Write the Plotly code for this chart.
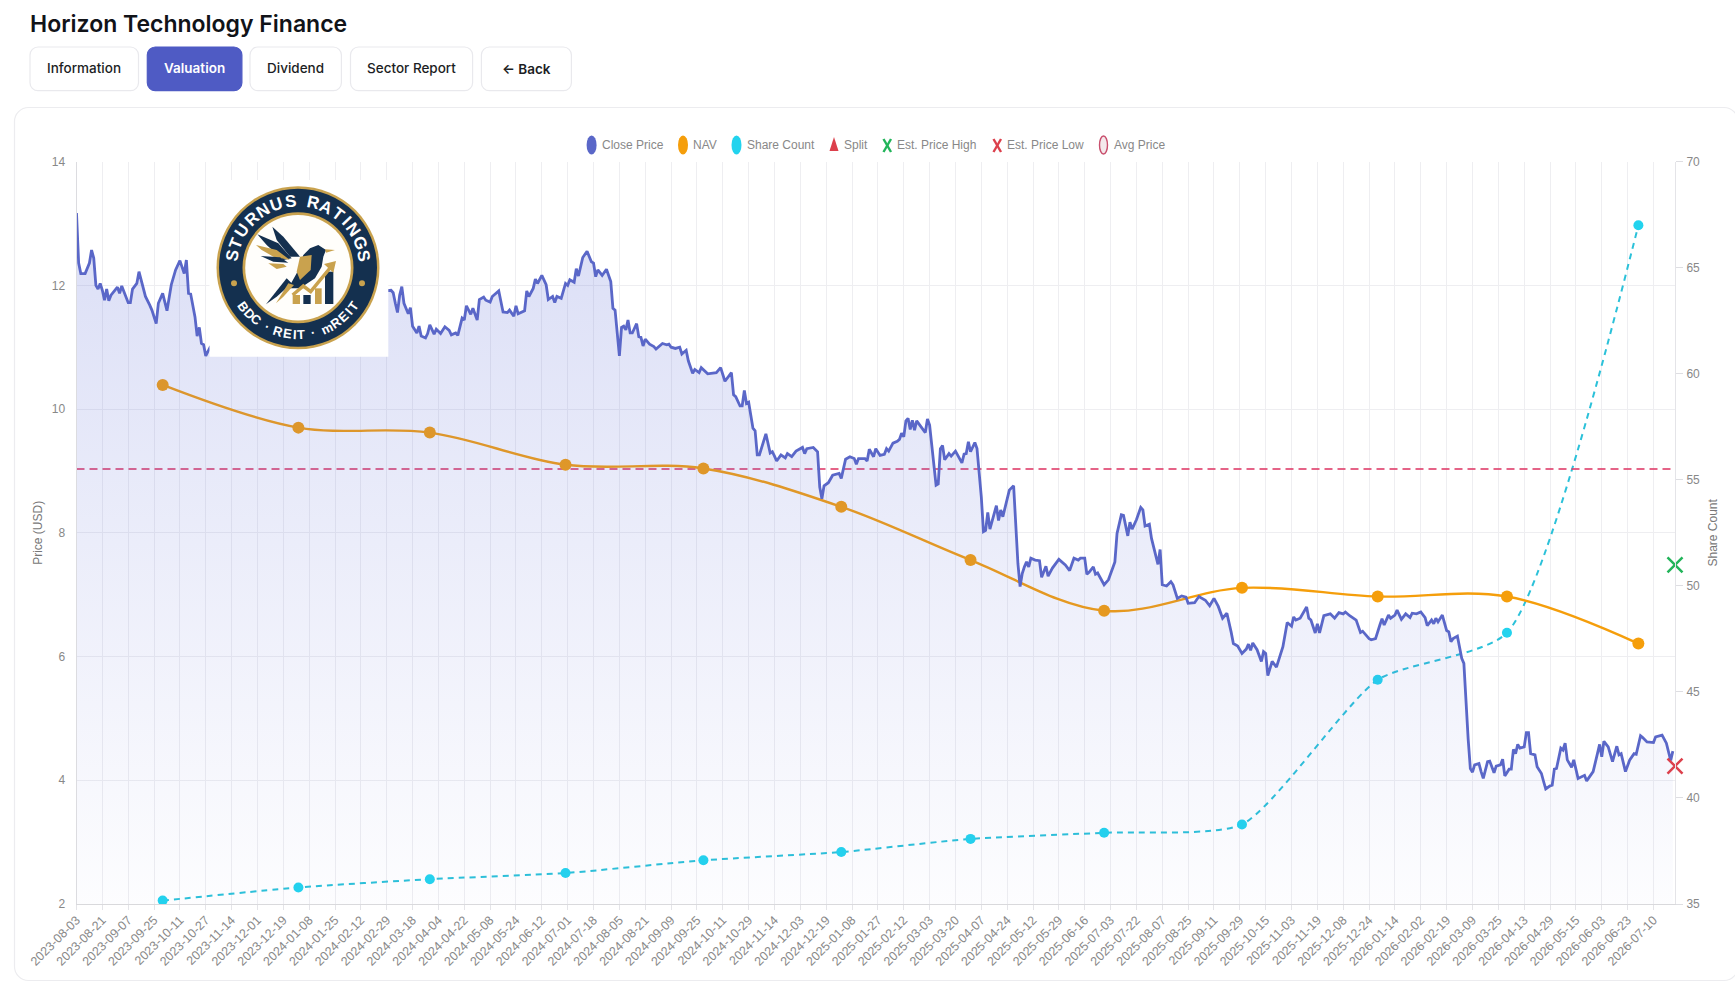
import math
import plotly.graph_objects as go

W, H = 1735, 982

company_name = "Horizon Technology Finance"
nav_buttons = ["Information", "Valuation", "Dividend", "Sector Report", "← Back"]

# Session index = position in the sequence of trading days on the category axis
tick_labels = [
    "2023-08-03","2023-08-21","2023-09-07","2023-09-25","2023-10-11","2023-10-27","2023-11-14","2023-12-01",
    "2023-12-19","2024-01-08","2024-01-25","2024-02-12","2024-02-29","2024-03-18","2024-04-04","2024-04-22",
    "2024-05-08","2024-05-24","2024-06-12","2024-07-01","2024-07-18","2024-08-05","2024-08-21","2024-09-09",
    "2024-09-25","2024-10-11","2024-10-29","2024-11-14","2024-12-03","2024-12-19","2025-01-08","2025-01-27",
    "2025-02-12","2025-03-03","2025-03-20","2025-04-07","2025-04-24","2025-05-12","2025-05-29","2025-06-16",
    "2025-07-03","2025-07-22","2025-08-07","2025-08-25","2025-09-11","2025-09-29","2025-10-15","2025-11-03",
    "2025-11-19","2025-12-08","2025-12-24","2026-01-14","2026-02-02","2026-02-19","2026-03-09","2026-03-25",
    "2026-04-13","2026-04-29","2026-05-15","2026-06-03","2026-06-23","2026-07-10",
]
sessions_per_tick = 12
last_session = 742

close_sessions = [
    0,1,2,4,6,7,8,9,10,11,12,13,14,15,16,19,20,21,24,25,26,28,29,30,32,34,35,37,38,40,42,44,46,48,50,51,52,53,55,56,57,58,59,60,62,
    70,80,95,110,125,140,
    146,147,148,149,150,151,152,154,155,156,158,159,160,162,163,164,166,167,169,171,173,174,176,177,179,180,181,183,184,186,187,189,190,192,193,196,198,200,201,203,204,205,208,209,210,212,213,214,216,218,219,221,222,223,225,227,228,229,231,232,233,235,237,239,240,241,242,244,246,248,249,250,252,253,254,255,256,257,258,260,261,262,263,264,266,268,269,272,274,275,276,278,280,281,283,284,286,287,289,290,293,
    297,299,301,304,305,306,308,309,310,311,312,313,314,315,316,317,320,322,323,324,325,327,329,330,332,334,337,338,339,342,344,345,346,347,349,351,354,355,357,359,361,362,363,366,367,368,370,371,373,375,376,377,379,381,382,383,384,385,386,387,388,389,390,394,395,396,397,398,399,400,401,402,403,405,406,408,411,412,413,414,415,417,418,420,421,422,423,424,427,428,429,430,432,433,435,436,437,438,439,440,441,442,443,
    445,447,448,450,451,453,456,459,461,463,465,466,468,469,470,472,473,474,477,479,481,482,483,485,486,488,489,490,492,494,495,496,498,499,502,503,504,506,508,509,511,513,515,516,519,521,524,526,528,530,532,534,536,537,539,541,543,544,545,546,548,550,551,552,553,555,557,558,560,562,564,565,566,568,571,572,573,575,576,577,579,582,584,586,588,589,591,
    594,596,597,600,601,603,605,606,607,609,610,612,613,615,617,619,620,622,624,626,627,629,630,631,632,634,636,637,638,639,641,643,644,645,646,647,648,649,651,652,653,655,656,658,659,661,662,663,665,666,667,668,669,670,672,673,674,675,677,678,680,681,682,684,685,686,687,689,690,691,692,694,695,697,700,701,704,706,707,708,709,711,713,715,716,717,719,721,723,724,726,727,729,732,733,736,738,740,741,
]
close_price = [
    13.17,12.36,12.19,12.19,12.36,12.57,12.44,12.0,11.94,12.03,11.92,11.76,11.94,11.75,11.84,11.97,11.87,11.99,11.72,11.72,11.94,12.03,12.22,12.09,11.82,11.68,11.6,11.38,11.71,11.87,11.59,12.01,12.25,12.40,12.19,12.41,11.87,11.86,11.49,11.18,11.32,11.06,11.04,10.86,11.0,
    11.3,11.5,11.6,11.7,11.9,11.9,
    11.92,11.88,11.71,11.56,11.84,11.98,11.71,11.54,11.64,11.34,11.23,11.34,11.18,11.15,11.22,11.36,11.21,11.29,11.22,11.33,11.27,11.2,11.23,11.19,11.47,11.44,11.67,11.53,11.63,11.44,11.77,11.81,11.76,11.73,11.82,11.91,11.57,11.56,11.6,11.5,11.67,11.54,11.59,11.91,11.82,11.95,12.1,12.03,12.16,12.01,11.77,11.82,11.72,11.82,11.79,12.03,12.0,12.09,12.05,12.27,12.15,12.45,12.55,12.38,12.36,12.14,12.25,12.16,12.26,12.06,11.63,11.6,10.86,11.32,11.34,11.28,11.44,11.23,11.23,11.38,11.17,11.16,11.02,11.13,11.05,11.01,10.97,11.06,11.04,11.05,11.0,10.98,11.0,10.89,10.95,10.78,10.58,10.64,10.59,10.67,10.57,
    10.59,10.67,10.45,10.59,10.23,10.2,10.05,10.05,10.3,10.09,10.11,9.9,9.69,9.65,9.26,9.26,9.6,9.29,9.31,9.24,9.16,9.26,9.21,9.28,9.23,9.32,9.38,9.28,9.36,9.38,9.31,8.74,8.55,8.76,8.81,8.93,8.96,8.88,9.19,9.23,9.2,9.11,9.2,9.2,9.16,9.35,9.23,9.36,9.25,9.27,9.36,9.32,9.45,9.48,9.51,9.61,9.55,9.81,9.85,9.67,9.82,9.66,9.81,9.62,9.84,9.74,9.4,9.04,8.77,8.79,9.36,9.41,9.18,9.28,9.24,9.32,9.13,9.27,9.28,9.47,9.31,9.46,9.36,8.58,8.02,8.04,8.33,8.06,8.44,8.2,8.37,8.26,8.53,8.69,8.76,8.02,7.5,7.13,7.34,7.45,7.53,7.45,7.59,
    7.56,7.55,7.28,7.46,7.3,7.43,7.57,7.48,7.39,7.59,7.56,7.59,7.59,7.33,7.36,7.45,7.33,7.35,7.16,7.24,7.43,7.53,7.99,8.29,8.28,7.95,8.17,8.06,8.21,8.41,8.37,8.11,8.14,7.91,7.49,7.73,7.16,7.14,7.21,7.16,6.94,6.98,6.96,6.86,6.87,6.97,6.91,6.82,6.94,6.81,6.62,6.7,6.39,6.21,6.17,6.05,6.12,6.2,6.1,6.22,6.11,5.92,6.08,6.05,5.69,5.92,5.83,5.94,6.16,6.55,6.49,6.64,6.59,6.62,6.8,6.62,6.59,6.38,6.53,6.38,6.66,6.69,6.62,6.71,6.69,6.72,6.66,
    6.59,6.39,6.41,6.29,6.27,6.29,6.51,6.61,6.51,6.67,6.62,6.67,6.75,6.6,6.69,6.63,6.7,6.69,6.72,6.63,6.5,6.59,6.53,6.62,6.56,6.67,6.42,6.4,6.24,6.29,6.33,5.97,5.89,5.24,4.66,4.19,4.13,4.25,4.27,4.14,4.03,4.3,4.31,4.12,4.23,4.25,4.34,4.07,4.18,4.18,4.5,4.43,4.58,4.52,4.54,4.77,4.77,4.43,4.41,4.22,4.11,3.98,3.86,3.91,3.92,4.18,4.19,4.52,4.49,4.6,4.33,4.21,4.33,4.03,4.08,3.99,4.14,4.43,4.58,4.38,4.63,4.54,4.3,4.55,4.41,4.43,4.14,4.33,4.43,4.42,4.72,4.69,4.62,4.61,4.7,4.73,4.6,4.32,4.47,
]

report_sessions = [40, 103, 164, 227, 291, 355, 415, 477, 541, 604, 664, 725]
nav_values = [10.39, 9.70, 9.62, 9.10, 9.04, 8.42, 7.56, 6.74, 7.11, 6.97, 6.97, 6.21]
share_count = [35.16, 35.78, 36.17, 36.46, 37.06, 37.45, 38.07, 38.36, 38.75, 45.57, 47.79, 67.0]

avg_price = 9.03
est_price_high = 7.48
est_price_low = 4.23

legend_labels = ["Close Price", "NAV", "Share Count", "Split", "Est. Price High", "Est. Price Low", "Avg Price"]

logo_top_text = "STURNUS RATINGS"
logo_bottom_text = "BDC · REIT · mREIT"

# ---- styles
C_CLOSE = "#5a67c8"
C_NAV = "#f59e0b"
C_SHARE = "#22d3ee"
C_SHARE_LINE = "rgba(32,190,215,0.95)"
C_HIGH = "#22b45a"
C_LOW = "#dc404c"
C_AVG = "rgba(222,60,105,0.8)"
C_TICK = "#888888"
C_GRID = "#eeeef1"
C_BORDER = "#e9e9ed"
NAVY = "#14304f"
GOLD = "#c9a24e"
PLOT_L, PLOT_R, PLOT_T, PLOT_B = 76.5, 1675.0, 161.6, 904.0

def X(p): return p / W
def Y(p): return 1 - p / H

shapes, notes = [], []

def rrect(x0, y0, x1, y1, r, fill, line, layer="below"):
    c = 0.55 * r
    pts = [
        f"M{X(x0+r)},{Y(y0)}", f"L{X(x1-r)},{Y(y0)}",
        f"C{X(x1-r+c)},{Y(y0)} {X(x1)},{Y(y0+r-c)} {X(x1)},{Y(y0+r)}",
        f"L{X(x1)},{Y(y1-r)}",
        f"C{X(x1)},{Y(y1-r+c)} {X(x1-r+c)},{Y(y1)} {X(x1-r)},{Y(y1)}",
        f"L{X(x0+r)},{Y(y1)}",
        f"C{X(x0+r-c)},{Y(y1)} {X(x0)},{Y(y1-r+c)} {X(x0)},{Y(y1-r)}",
        f"L{X(x0)},{Y(y0+r)}",
        f"C{X(x0)},{Y(y0+r-c)} {X(x0+r-c)},{Y(y0)} {X(x0+r)},{Y(y0)} Z",
    ]
    shapes.append(dict(type="path", xref="paper", yref="paper", path=" ".join(pts), fillcolor=fill,
                       line=dict(color=line, width=1.2), layer=layer))

def ellipse(cx, cy, rx, ry, fill, line=None, lw=0, layer="above"):
    shapes.append(dict(type="circle", xref="paper", yref="paper", x0=X(cx-rx), x1=X(cx+rx), y0=Y(cy+ry), y1=Y(cy-ry),
                       fillcolor=fill, line=dict(color=line or fill, width=lw), layer=layer))

def poly(pts, fill=None, line=None, lw=0, close=True):
    d = "M" + " L".join(f"{X(a)},{Y(b)}" for a, b in pts) + (" Z" if close else "")
    shapes.append(dict(type="path", xref="paper", yref="paper", path=d, fillcolor=fill or "rgba(0,0,0,0)",
                       line=dict(color=line or "rgba(0,0,0,0)", width=lw), layer="above"))

def text(x, y, s, size=12, color="#000", family="Inter", weight=400, anchor="left", angle=0):
    notes.append(dict(x=X(x), y=Y(y), xref="paper", yref="paper", text=s, showarrow=False, xanchor=anchor,
                      yanchor="middle", textangle=angle, font=dict(size=size, color=color, family=family, weight=weight)))

# ---- page furniture
rrect(14.5, 107.5, 1738, 980.5, 14, "#ffffff", "#ececef")
text(28, 24, company_name, size=23, color="#111318", weight=600)
btn_boxes = [(30, 138.5), (147.3, 241.9), (250, 341.4), (350.5, 472.6), (481.4, 571.4)]
for lab, (a, b) in zip(nav_buttons, btn_boxes):
    active = lab == "Valuation"
    rrect(a, 47, b, 90.7, 8, "#4f5bc4" if active else "#ffffff", "#4f5bc4" if active else C_BORDER)
    text((a+b)/2, 69 if lab.startswith("←") else 68, lab, size=13.5, color="#ffffff" if active else "#1c1e24",
         weight=600 if active or lab.startswith("←") else 500, anchor="center")

# ---- legend
leg_y = 145
ellipse(591.6, leg_y, 5, 9.5, C_CLOSE)
ellipse(683, leg_y, 5, 9.5, C_NAV)
ellipse(736.5, leg_y, 5, 9.5, C_SHARE)
poly([(834, 137), (838.5, 151), (829.5, 151)], fill="#dc404c")
poly([(883.5, 139), (891, 152)], line=C_HIGH, lw=2.4, close=False)
poly([(891, 139), (883.5, 152)], line=C_HIGH, lw=2.4, close=False)
poly([(993.5, 139), (1001, 152)], line=C_LOW, lw=2.4, close=False)
poly([(1001, 139), (993.5, 152)], line=C_LOW, lw=2.4, close=False)
ellipse(1103.5, leg_y, 4, 9, "#f4e9ec", "#c9506e", 1.4)
for lab, x0 in zip(legend_labels, [600, 691, 744.5, 842, 895.5, 1005, 1111.5]):
    text(x0, leg_y, lab, size=12, color="#888888", family="Liberation Sans")

# ---- logo badge (drawn over the plot area, like the pasted image in the reference)
cx, cy = 298, 267.7
shapes.append(dict(type="rect", xref="paper", yref="paper", x0=X(209.5), x1=X(388.3), y0=Y(356.7), y1=Y(180),
                   fillcolor="#ffffff", line=dict(width=0), layer="above"))
ellipse(cx, cy, 81.5, 81.5, GOLD)
ellipse(cx, cy, 79, 79, NAVY)
ellipse(cx, cy, 55.5, 55.5, GOLD)
ellipse(cx, cy, 52.8, 52.8, "#fffefb")
ellipse(234, 283.3, 3, 3, GOLD)
ellipse(362, 283.3, 3, 3, GOLD)

def Z(pts):
    return [(70 + a/3, 200 + b/3) for a, b in pts]

poly(Z([(607,80),(640,110),(690,170),(660,170),(620,120)]), fill=NAVY)
poly(Z([(562,103),(625,130),(665,175),(640,180),(590,135)]), fill=NAVY)
poly(Z([(558,135),(620,150),(660,180),(610,170),(575,150)]), fill=GOLD)
poly(Z([(572,168),(630,172),(655,188),(610,185)]), fill=NAVY)
poly(Z([(595,190),(640,192),(650,200),(620,207)]), fill=GOLD)
poly(Z([(700,165),(720,145),(745,135),(768,150),(760,170),(755,200),(735,235),(690,265),(655,265),(680,220)]), fill=NAVY)
poly(Z([(690,170),(725,165),(722,210),(690,240),(680,215)]), fill=GOLD)
poly(Z([(650,235),(588,313),(620,290),(665,250)]), fill=NAVY)
poly(Z([(655,250),(618,310),(640,290),(672,255)]), fill=GOLD)
poly(Z([(765,148),(795,150),(768,158)]), fill=GOLD)
poly(Z([(668,285),(690,285),(690,312),(668,312)]), fill=GOLD)
poly(Z([(700,285),(722,285),(722,312),(700,312)]), fill=NAVY)
poly(Z([(735,265),(755,265),(755,312),(735,312)]), fill=GOLD)
poly(Z([(765,215),(790,215),(790,312),(765,312)]), fill=NAVY)
poly(Z([(668,285),(700,258),(722,275),(785,198)]), line=GOLD, lw=3.5, close=False)
poly(Z([(762,192),(798,183),(790,218)]), fill=GOLD)

def arc_angles(s, span):
    adv = {" ": 0.55, "·": 0.55, "I": 0.5, "m": 1.35, "T": 0.9, "S": 0.95}
    w = [adv.get(c, 1.0) for c in s]
    mids, run = [], 0.0
    for a in w:
        mids.append(run + a / 2)
        run += a
    lo, hi = mids[0], mids[-1]
    return [-span + 2 * span * (m - lo) / (hi - lo) for m in mids]

for ch, th in zip(logo_top_text, arc_angles(logo_top_text, 80)):
    if ch != " ":
        r = math.radians(th)
        text(cx + 67*math.sin(r), cy - 67*math.cos(r), ch, size=17, color="#ffffff",
             family="Liberation Sans", weight=700, anchor="center", angle=th)
for ch, ph in zip(logo_bottom_text, arc_angles(logo_bottom_text, 55)):
    if ch != " ":
        r = math.radians(ph)
        text(cx + 67*math.sin(r), cy + 67*math.cos(r), ch, size=13, color="#ffffff",
             family="Liberation Sans", weight=700, anchor="center", angle=-ph)

# ---- traces (share axis is the base subplot so the close-price fill sits on top, as in the reference)
fig = go.Figure()
fig.add_trace(go.Scatter(x=report_sessions, y=share_count, name="Share Count", xaxis="x", yaxis="y", mode="lines+markers",
                         line=dict(color=C_SHARE_LINE, width=2, dash="6px,5px", shape="spline", smoothing=0.6),
                         marker=dict(color=C_SHARE, size=10)))
fig.add_trace(go.Scatter(x=[0, last_session], y=[avg_price, avg_price], name="Avg Price", xaxis="x", yaxis="y2", mode="lines",
                         line=dict(color=C_AVG, width=2, dash="8px,5px")))
fig.add_trace(go.Scatter(x=report_sessions, y=nav_values, name="NAV", xaxis="x", yaxis="y2", mode="lines+markers",
                         line=dict(color=C_NAV, width=2.4, shape="spline", smoothing=1.0),
                         marker=dict(color=C_NAV, size=12)))
fig.add_trace(go.Scatter(x=close_sessions, y=close_price, name="Close Price", xaxis="x", yaxis="y2", mode="lines",
                         line=dict(color=C_CLOSE, width=2.8, shape="linear"), fill="tozeroy",
                         fillgradient=dict(type="vertical", start=14, stop=2,
                                           colorscale=[[0, "rgba(95,110,215,0.24)"], [1, "rgba(95,110,215,0.015)"]])))
fig.add_trace(go.Scatter(x=[last_session], y=[est_price_high], name="Est. Price High", xaxis="x", yaxis="y2", mode="markers",
                         cliponaxis=False, marker=dict(symbol="x-thin-open", size=15, color=C_HIGH, line=dict(color=C_HIGH, width=2.5))))
fig.add_trace(go.Scatter(x=[last_session], y=[est_price_low], name="Est. Price Low", xaxis="x", yaxis="y2", mode="markers",
                         cliponaxis=False, marker=dict(symbol="x-thin-open", size=15, color=C_LOW, line=dict(color=C_LOW, width=2.5))))

tick_font = dict(size=12, color=C_TICK, family="Liberation Sans")
x_tick_font = dict(size=12.5, color=C_TICK, family="Liberation Sans")
fig.update_layout(
    width=W, height=H, margin=dict(l=0, r=0, t=0, b=0, pad=0, autoexpand=False), autosize=False,
    paper_bgcolor="#ffffff", plot_bgcolor="rgba(0,0,0,0)", showlegend=False, hovermode=False,
    shapes=shapes, annotations=notes,
    xaxis=dict(domain=[X(PLOT_L), X(PLOT_R)], range=[0, last_session], anchor="y", automargin=False,
               tickmode="array", tickvals=[k * sessions_per_tick for k in range(len(tick_labels))], ticktext=tick_labels,
               tickangle=-45, tickfont=x_tick_font, showgrid=True, gridcolor=C_GRID, gridwidth=1, ticklabelstandoff=-2,
               ticks="outside", ticklen=5, tickcolor="#e4e4e8", showline=True, linecolor="#d9d9dc", linewidth=1, zeroline=False),
    yaxis=dict(domain=[Y(PLOT_B), Y(PLOT_T)], range=[35, 70], dtick=5, side="right", anchor="x", tickfont=tick_font, automargin=False,
               showgrid=False, ticks="outside", ticklen=7, tickcolor="#dedee2", zeroline=False,
               showline=True, linecolor="#e4e4e8", linewidth=1, ticklabelstandoff=1,
               title=dict(text="Share Count", font=dict(size=12, color="#777777", family="Liberation Sans"), standoff=9)),
    yaxis2=dict(domain=[Y(PLOT_B), Y(PLOT_T)], range=[2, 14], dtick=2, side="left", overlaying="y", anchor="x", tickfont=tick_font, automargin=False,
                showgrid=True, gridcolor=C_GRID, gridwidth=1, ticks="outside", ticklen=6, tickcolor="rgba(0,0,0,0)", zeroline=False,
                showline=True, linecolor="#dcdce0", linewidth=1, ticklabelstandoff=2,
                title=dict(text="Price (USD)", font=dict(size=12, color="#777777", family="Liberation Sans"), standoff=6)),
)

fig.write_html("out.html", config=dict(displayModeBar=False),
               post_script="document.body.style.margin='0';document.documentElement.style.overflow='hidden';")
